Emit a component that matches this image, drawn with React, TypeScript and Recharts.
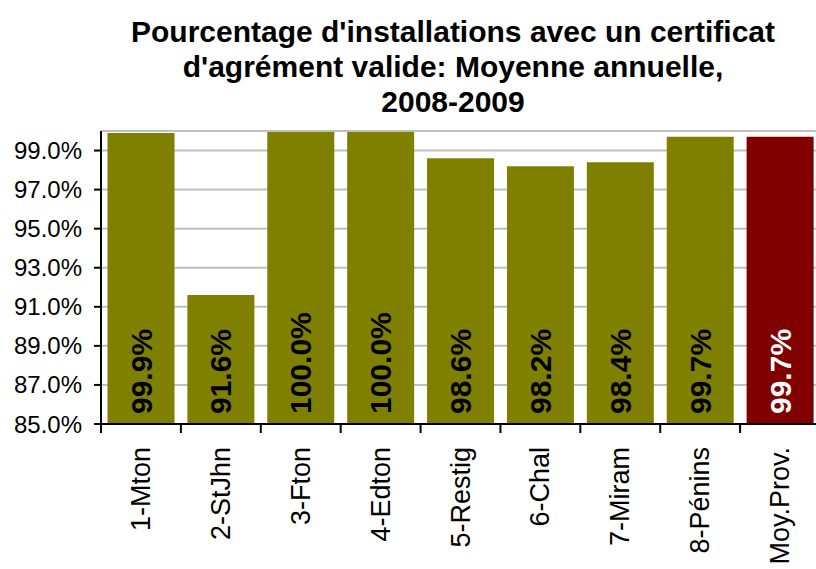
import React from 'react';
import { BarChart, Bar, XAxis, YAxis, CartesianGrid, ReferenceLine, LabelList, Cell } from 'recharts';

const categories = ['1-Mton', '2-StJhn', '3-Fton', '4-Edton', '5-Restig', '6-Chal', '7-Miram', '8-Pénins', 'Moy.Prov.'];
const values = [99.9, 91.6, 100.0, 100.0, 98.6, 98.2, 98.4, 99.7, 99.7];
const yTicks = [85, 87, 89, 91, 93, 95, 97, 99];
const titleLines = ["Pourcentage d'installations avec un certificat", "d'agrément valide: Moyenne annuelle,", '2008-2009'];

const OLIVE = '#808000';
const MAROON = '#800000';
const FONT = '"Liberation Sans", Arial, sans-serif';

const CHART_W = 830;
const CHART_H = 569;
const Y_AXIS_W = 101;
const MARGIN = { top: 131, right: 10, bottom: 0, left: 0 };
const BAND = (CHART_W - MARGIN.left - MARGIN.right - Y_AXIS_W) / categories.length;

const data = categories.map((name, i) => ({ name, value: values[i] }));

const CategoryTick = (props: any) => {
  const { x, y, payload } = props;
  const edge = x - BAND / 2;
  const ty = y + 23;
  return (
    <g>
      <line x1={edge} y1={y} x2={edge} y2={y + 9} stroke="#000" strokeWidth={2} />
      <text
        x={x}
        y={ty}
        transform={`rotate(-90, ${x}, ${ty})`}
        textAnchor="end"
        dominantBaseline="central"
        fontSize={27}
        fontFamily={FONT}
        fill="#000"
      >
        {payload.value}
      </text>
    </g>
  );
};

const ValueLabel = (props: any) => {
  const { x, y, width, height, value, index } = props;
  const cx = x + width / 2;
  const ty = y + height - 10;
  const last = index === categories.length - 1;
  return (
    <text
      x={cx}
      y={ty}
      transform={`rotate(-90, ${cx}, ${ty})`}
      textAnchor="start"
      dominantBaseline="central"
      fontSize={30}
      fontWeight="bold"
      fontFamily={FONT}
      fill={last ? '#fff' : '#000'}
    >
      {Number(value).toFixed(1) + '%'}
    </text>
  );
};

export default function App() {
  return (
    <div style={{ position: 'fixed', left: 0, top: 0, width: 816, height: 569, overflow: 'hidden', background: '#fff' }}>
      <div
        style={{
          position: 'absolute',
          left: 103,
          top: 14,
          width: 700,
          textAlign: 'center',
          fontFamily: FONT,
          fontWeight: 'bold',
          fontSize: 30,
          lineHeight: '35px',
          color: '#000',
        }}
      >
        {titleLines.map((t) => (
          <div key={t}>{t}</div>
        ))}
      </div>
      <BarChart width={CHART_W} height={CHART_H} data={data} margin={MARGIN} barCategoryGap={6.5}>
        <CartesianGrid vertical={false} stroke="#c0c0c0" strokeWidth={2} />
        <ReferenceLine y={100} stroke="#c0c0c0" strokeWidth={2} />
        <YAxis
          width={Y_AXIS_W}
          domain={[85, 100]}
          ticks={yTicks}
          allowDataOverflow
          tickFormatter={(v: number) => v.toFixed(1) + '%'}
          tick={{ fontSize: 24, fill: '#000', fontFamily: FONT }}
          tickSize={7}
          tickMargin={12}
          tickLine={{ stroke: '#000', strokeWidth: 2 }}
          axisLine={{ stroke: '#000', strokeWidth: 2 }}
        />
        <XAxis
          dataKey="name"
          height={CHART_H - 424}
          interval={0}
          tickSize={0}
          tickMargin={0}
          tickLine={false}
          tick={<CategoryTick />}
          axisLine={{ stroke: '#000', strokeWidth: 2 }}
        />
        <Bar dataKey="value" isAnimationActive={false}>
          {data.map((d, i) => (
            <Cell key={d.name} fill={i === data.length - 1 ? MAROON : OLIVE} />
          ))}
          <LabelList dataKey="value" content={<ValueLabel />} />
        </Bar>
      </BarChart>
    </div>
  );
}
